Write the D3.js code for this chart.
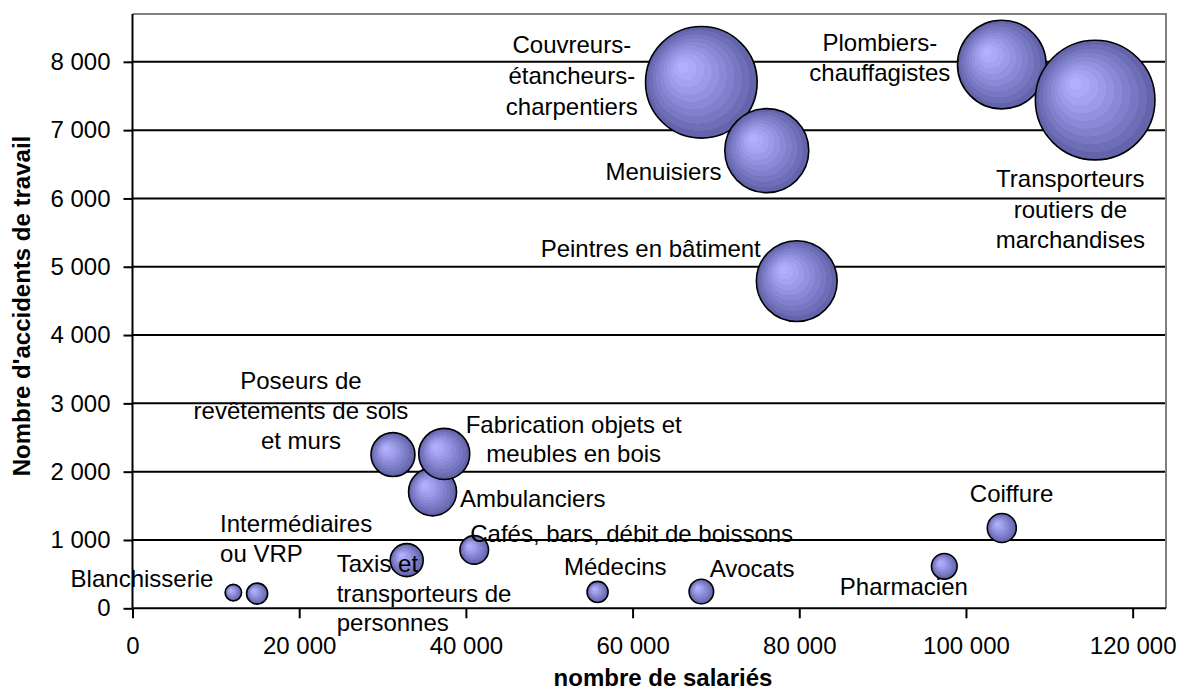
<!DOCTYPE html>
<html><head><meta charset="utf-8">
<script src="https://cdn.jsdelivr.net/npm/d3@7"></script>
<style>
html,body{margin:0;padding:0;background:#fff;}
text{font-family:"Liberation Sans",Arial,sans-serif;fill:#000;}
</style></head>
<body>
<svg id="chart" width="1180" height="693"></svg>
<script>
// ---- data ----
const metiers = ["Blanchisserie","Intermédiaires ou VRP","Taxis et transporteurs de personnes","Cafés, bars, débit de boissons",
  "Poseurs de revêtements de sols et murs","Ambulanciers","Fabrication objets et meubles en bois","Médecins","Avocats",
  "Pharmacien","Coiffure","Peintres en bâtiment","Couvreurs-étancheurs-charpentiers","Menuisiers","Plombiers-chauffagistes",
  "Transporteurs routiers de marchandises"];
const salaries  = [12100, 14950, 32900, 41000, 31250, 36000, 37400, 55800, 68250, 97400, 104300, 79700, 68250, 76100, 104300, 115500];
const accidents = [230, 215, 705, 855, 2250, 1705, 2260, 240, 245, 615, 1175, 4790, 7700, 6700, 7960, 7440];
const taille    = [1.9, 3.1, 7.6, 5.7, 13.5, 16.1, 18.2, 3.1, 4.2, 4.6, 5.9, 45.6, 87.1, 49.3, 54.9, 100];
const labelLines = [
  ["Blanchisserie"], ["Intermédiaires","ou VRP"], ["Taxis et","transporteurs de","personnes"], ["Cafés, bars, débit de boissons"],
  ["Poseurs de","revêtements de sols","et murs"], ["Ambulanciers"], ["Fabrication objets et","meubles en bois"], ["Médecins"],
  ["Avocats"], ["Pharmacien"], ["Coiffure"], ["Peintres en bâtiment"], ["Couvreurs-","étancheurs-","charpentiers"],
  ["Menuisiers"], ["Plombiers-","chauffagistes"], ["Transporteurs","routiers de","marchandises"]];
const xTicks = [0, 20000, 40000, 60000, 80000, 100000, 120000];
const yTicks = [0, 1000, 2000, 3000, 4000, 5000, 6000, 7000, 8000];
const xTitle = "nombre de salariés";
const yTitle = "Nombre d'accidents de travail";

// ---- layout (label offsets from bubble centre, px) ----
const labelLayout = [
  {dx:-20, dy:-6, a:"end"}, {dx:-37, dy:-62, a:"start", lh:30}, {dx:-70, dy:12, a:"start", lh:29.5},
  {dx:-4, dy:-8, a:"start"}, {dx:-92, dy:-65.5, a:"middle", lh:30}, {dx:27.5, dy:14.7, a:"start"},
  {dx:129.5, dy:-20.5, a:"middle", lh:29}, {dx:17.7, dy:-17, a:"middle"}, {dx:8.3, dy:-14.4, a:"start"},
  {dx:-104.5, dy:28.8, a:"start"}, {dx:9.8, dy:-26, a:"middle"}, {dx:-36, dy:-24.2, a:"end"},
  {dx:-129.5, dy:-29, a:"middle", lh:30.7}, {dx:-45.3, dy:29.5, a:"end"}, {dx:-122, dy:-13.1, a:"middle", lh:30},
  {dx:-24.8, dy:86.7, a:"middle", lh:30.8}];

const L = 132.5, R = 1166, T = 14, B = 608.3;
const FS = 24;
const svg = d3.select("#chart");
const x = d3.scaleLinear().domain([0, 124000]).range([L, R]);
const y = d3.scaleLinear().domain([0, 8700]).range([B, T]);
const r = d3.scaleSqrt().domain([0, 100]).range([0, 59.8]);
const fmt = v => d3.format(",")(v).replace(/,/g, " ");

// gradient (banded radial, like the original)
const defs = svg.append("defs");
const grad = defs.append("radialGradient").attr("id","bub")
  .attr("cx",0.5).attr("cy",0.5).attr("r",0.5).attr("fx",0.32).attr("fy",0.35);
const c0 = d3.rgb("#b0b0ff"), c1 = d3.rgb("#6464ad");
const nb = 10;
for (let i = 0; i < nb; i++) {
  const col = d3.interpolateRgb(c0, c1)(Math.pow(i / (nb - 1), 1.15));
  grad.append("stop").attr("offset", i / nb).attr("stop-color", col);
  grad.append("stop").attr("offset", (i + 1) / nb).attr("stop-color", col);
}

// gridlines
svg.append("g").selectAll("line").data(yTicks.filter(v => v > 0)).join("line")
  .attr("x1", L).attr("x2", R).attr("y1", d => y(d)).attr("y2", d => y(d))
  .attr("stroke", "#000").attr("stroke-width", 2);
// plot border (top/right grey)
svg.append("path").attr("d", `M${L},${T}H${R}V${B}`).attr("fill","none").attr("stroke","#808080").attr("stroke-width",2);

// axes
const gx = svg.append("g").attr("transform", `translate(0,${B})`)
  .call(d3.axisBottom(x).tickValues(xTicks).tickFormat(fmt).tickSize(10).tickPadding(19));
const gy = svg.append("g").attr("transform", `translate(${L},0)`)
  .call(d3.axisLeft(y).tickValues(yTicks).tickFormat(fmt).tickSize(9).tickPadding(13));
[gx, gy].forEach(g => {
  g.select(".domain").attr("stroke","#000").attr("stroke-width",2);
  g.selectAll(".tick line").attr("stroke","#000").attr("stroke-width",2);
  g.selectAll(".tick text").attr("font-size", FS).attr("font-family",'"Liberation Sans",Arial,sans-serif').attr("fill","#000");
});
gx.select(".domain").attr("d", `M${L},0H${R}`);
gy.select(".domain").attr("d", `M0,${B}V${T}`);

// bubbles
const idx = d3.range(metiers.length);
svg.append("g").selectAll("circle").data(idx).join("circle")
  .attr("cx", i => x(salaries[i])).attr("cy", i => y(accidents[i])).attr("r", i => r(taille[i]))
  .attr("fill", "url(#bub)").attr("stroke", "#000").attr("stroke-width", 1.6);

// labels
const lg = svg.append("g");
idx.forEach(i => {
  const lay = labelLayout[i];
  const t = lg.append("text").attr("font-size", FS).attr("text-anchor", lay.a)
    .attr("x", x(salaries[i]) + lay.dx).attr("y", y(accidents[i]) + lay.dy);
  labelLines[i].forEach((s, k) => {
    t.append("tspan").attr("x", x(salaries[i]) + lay.dx).attr("dy", k === 0 ? 0 : (lay.lh || 30)).text(s);
  });
});

// axis titles
svg.append("text").attr("x", 663).attr("y", 686).attr("text-anchor","middle")
  .attr("font-size", FS).attr("font-weight","bold").text(xTitle);
svg.append("text").attr("transform", "translate(30,306) rotate(-90)").attr("text-anchor","middle")
  .attr("font-size", FS).attr("font-weight","bold").text(yTitle);
</script>
</body></html>
